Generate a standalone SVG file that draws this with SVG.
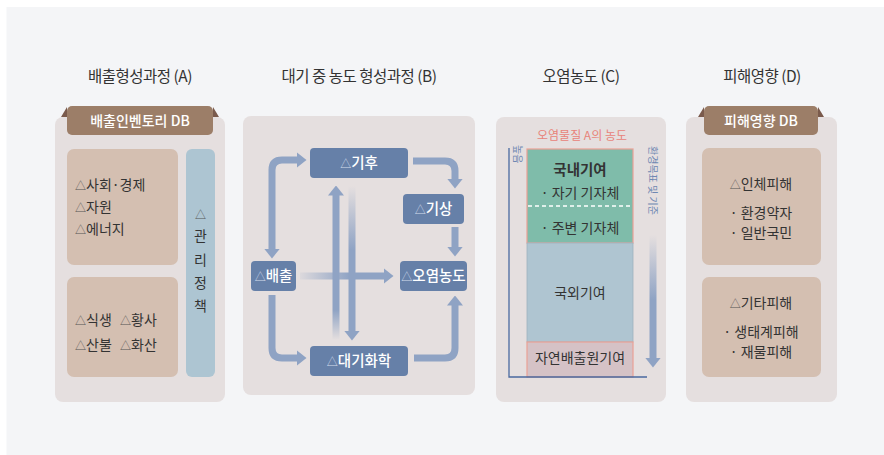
<svg xmlns="http://www.w3.org/2000/svg" width="884" height="455" viewBox="0 0 884 455">
<style>
text{font-family:"Noto Sans CJK KR","Noto Sans",sans-serif;}
.title{font-size:15.5px;fill:#333;text-anchor:middle;letter-spacing:-0.5px}
.panel{fill:#e5dfdf}
.tab{fill:#9c7e68}
.ear{fill:#7a5a4c}
.tabt{font-size:14px;fill:#fff;text-anchor:middle;font-weight:500}
.bx{fill:#d4bfb1}
.bar{fill:#adc5d2}
.t{font-size:14px;fill:#333}
.tm{font-size:14px;fill:#333;text-anchor:middle}
.tri{font-size:11px;fill:#555}
.node rect{fill:#6680a8}
.nt{font-size:14.5px;fill:#fff;text-anchor:middle;font-weight:500}
.ntri{font-size:11px;fill:#d5deec;font-weight:400}
.arr{fill:none;stroke:#8fa3c4;stroke-width:7}
.axis{stroke:#4a6aa0;stroke-width:1.3;fill:none}
.vl{font-size:10px;fill:#6f88b2}
</style>
<defs>
<marker id="ah" markerUnits="userSpaceOnUse" markerWidth="10" markerHeight="16" viewBox="0 0 10 16" refX="0.5" refY="8" orient="auto-start-reverse">
<path d="M0,0 L10,8 L0,16 z" fill="#8fa3c4"/>
</marker>
<linearGradient id="gH" gradientUnits="userSpaceOnUse" x1="300" y1="0" x2="350" y2="0">
<stop offset="0" stop-color="#8fa3c4" stop-opacity="0.1"/><stop offset="1" stop-color="#8fa3c4"/>
</linearGradient>
<linearGradient id="gUp" gradientUnits="userSpaceOnUse" x1="0" y1="340" x2="0" y2="310">
<stop offset="0" stop-color="#8fa3c4" stop-opacity="0"/><stop offset="1" stop-color="#8fa3c4"/>
</linearGradient>
<linearGradient id="gDn" gradientUnits="userSpaceOnUse" x1="0" y1="186" x2="0" y2="250">
<stop offset="0" stop-color="#8fa3c4" stop-opacity="0"/><stop offset="1" stop-color="#8fa3c4"/>
</linearGradient>
<linearGradient id="gC" gradientUnits="userSpaceOnUse" x1="0" y1="235" x2="0" y2="300">
<stop offset="0" stop-color="#8fa3c4" stop-opacity="0"/><stop offset="1" stop-color="#8fa3c4"/>
</linearGradient>
</defs>

<rect x="6.5" y="7" width="878" height="448" fill="#f4f5f7"/>

<!-- titles -->
<text class="title" x="140" y="82">배출형성과정 (A)</text>
<text class="title" x="359" y="82">대기 중 농도 형성과정 (B)</text>
<text class="title" x="581" y="82">오염농도 (C)</text>
<text class="title" x="762" y="82">피해영향 (D)</text>

<!-- Panel A -->
<g id="panelA">
<rect class="panel" x="55" y="117" width="170" height="285" rx="8"/>
<polygon class="ear" points="61,117 67,107 67,117"/>
<polygon class="ear" points="219,117 213,107 213,117"/>
<rect class="tab" x="67" y="106" width="146" height="29" rx="5"/>
<text class="tabt" x="140" y="125.5">배출인벤토리 DB</text>
</g>
<g id="a-box1">
<rect class="bx" x="67" y="149" width="111" height="116" rx="7"/>
<text class="t" x="75" y="190"><tspan class="tri">△</tspan>사회·경제</text>
<text class="t" x="75" y="212"><tspan class="tri">△</tspan>자원</text>
<text class="t" x="75" y="234"><tspan class="tri">△</tspan>에너지</text>
</g>
<g id="a-box2">
<rect class="bx" x="67" y="277" width="111" height="100" rx="7"/>
<text class="t" x="75" y="325"><tspan class="tri">△</tspan>식생</text>
<text class="t" x="120" y="325"><tspan class="tri">△</tspan>황사</text>
<text class="t" x="75" y="350"><tspan class="tri">△</tspan>산불</text>
<text class="t" x="120" y="350"><tspan class="tri">△</tspan>화산</text>
</g>
<g id="a-policy">
<rect class="bar" x="186" y="149" width="29" height="228" rx="6"/>
<text class="tm" x="200.5" y="219" style="font-size:11px;fill:#555">△</text>
<text class="tm" x="200.5" y="241">관</text>
<text class="tm" x="200.5" y="265">리</text>
<text class="tm" x="200.5" y="288">정</text>
<text class="tm" x="200.5" y="311">책</text>
</g>

<!-- Panel B -->
<g id="panelB">
<rect class="panel" x="243" y="116" width="232" height="279" rx="8"/>
</g>
<g id="connectors">
<path class="arr" d="M272,249 V170 Q272,160 282,160 H297" marker-start="url(#ah)" marker-end="url(#ah)"/>
<path class="arr" d="M413,161 H445 Q455,161 455,171 V179" marker-end="url(#ah)"/>
<path class="arr" d="M455,227 V247" marker-end="url(#ah)"/>
<path class="arr" d="M272,295 V348 Q272,358 282,358 H297" marker-end="url(#ah)"/>
<path class="arr" d="M414,358 H445 Q455,358 455,348 V305" marker-end="url(#ah)"/>
<path class="arr" style="stroke:url(#gUp)" d="M336,340 V195" marker-end="url(#ah)"/>
<path class="arr" style="stroke:url(#gDn)" d="M352,186 V331" marker-end="url(#ah)"/>
<path class="arr" style="stroke:url(#gH)" d="M300,276 H384" marker-end="url(#ah)"/>
</g>
<g id="n-climate" class="node">
<rect x="310" y="148" width="98" height="30" rx="4"/>
<text class="nt" x="359" y="168"><tspan class="ntri">△</tspan>기후</text>
</g>
<g id="n-weather" class="node">
<rect x="403" y="194" width="61" height="30" rx="4"/>
<text class="nt" x="433.5" y="214"><tspan class="ntri">△</tspan>기상</text>
</g>
<g id="n-emission" class="node">
<rect x="251" y="261" width="45" height="30" rx="4"/>
<text class="nt" x="273.5" y="281"><tspan class="ntri">△</tspan>배출</text>
</g>
<g id="n-conc" class="node">
<rect x="400" y="261" width="67" height="30" rx="4"/>
<text class="nt" x="433.5" y="281"><tspan class="ntri">△</tspan>오염농도</text>
</g>
<g id="n-chem" class="node">
<rect x="310" y="346" width="98" height="30" rx="4"/>
<text class="nt" x="359" y="366"><tspan class="ntri">△</tspan>대기화학</text>
</g>

<!-- Panel C -->
<g id="panelC">
<rect class="panel" x="496" y="117" width="170" height="285" rx="8"/>
<text x="582" y="140" style="font-size:12px;fill:#e8837a;text-anchor:middle">오염물질 A의 농도</text>
<rect x="527" y="149" width="106" height="94" fill="#7fbcaa" stroke="#e9a196" stroke-width="1.2"/>
<rect x="527" y="243" width="106" height="99" fill="#afc5d1" stroke="#9fb2be" stroke-width="0.8"/>
<rect x="527" y="342" width="106" height="35" fill="#d5c2c6" stroke="#e9a196" stroke-width="1.2"/>
<line x1="528" y1="206" x2="632" y2="206" stroke="#fff" stroke-width="1.3" stroke-dasharray="4,3"/>
<text x="580" y="175" style="font-size:14.5px;fill:#333;text-anchor:middle;font-weight:700">국내기여</text>
<text class="tm" x="580" y="198">· 자기 기자체</text>
<text class="tm" x="580" y="233">· 주변 기자체</text>
<text class="tm" x="580" y="298">국외기여</text>
<text class="tm" x="580" y="363">자연배출원기여</text>
<path class="axis" d="M509,148 V377 H647"/>
<text class="vl" transform="translate(514,145) rotate(90)">높음</text>
<text class="vl" transform="translate(649,146) rotate(90)">환경목표 및 기준</text>
<path class="arr" style="stroke:url(#gC)" d="M653,235 V358" marker-end="url(#ah)"/>
</g>

<!-- Panel D -->
<g id="panelD">
<rect class="panel" x="686" y="117" width="151" height="285" rx="8"/>
<polygon class="ear" points="698,117 704,107 704,117"/>
<polygon class="ear" points="824,117 818,107 818,117"/>
<rect class="tab" x="704" y="106" width="114" height="29" rx="5"/>
<text class="tabt" x="761" y="125.5">피해영향 DB</text>
</g>
<g id="d-box1">
<rect class="bx" x="702" y="148" width="119" height="117" rx="7"/>
<text class="tm" x="761" y="189"><tspan class="tri">△</tspan>인체피해</text>
<text class="tm" x="761" y="218">· 환경약자</text>
<text class="tm" x="761" y="238">· 일반국민</text>
</g>
<g id="d-box2">
<rect class="bx" x="702" y="277" width="119" height="100" rx="7"/>
<text class="tm" x="761" y="308"><tspan class="tri">△</tspan>기타피해</text>
<text class="tm" x="761" y="337">· 생태계피해</text>
<text class="tm" x="761" y="357">· 재물피해</text>
</g>
</svg>
